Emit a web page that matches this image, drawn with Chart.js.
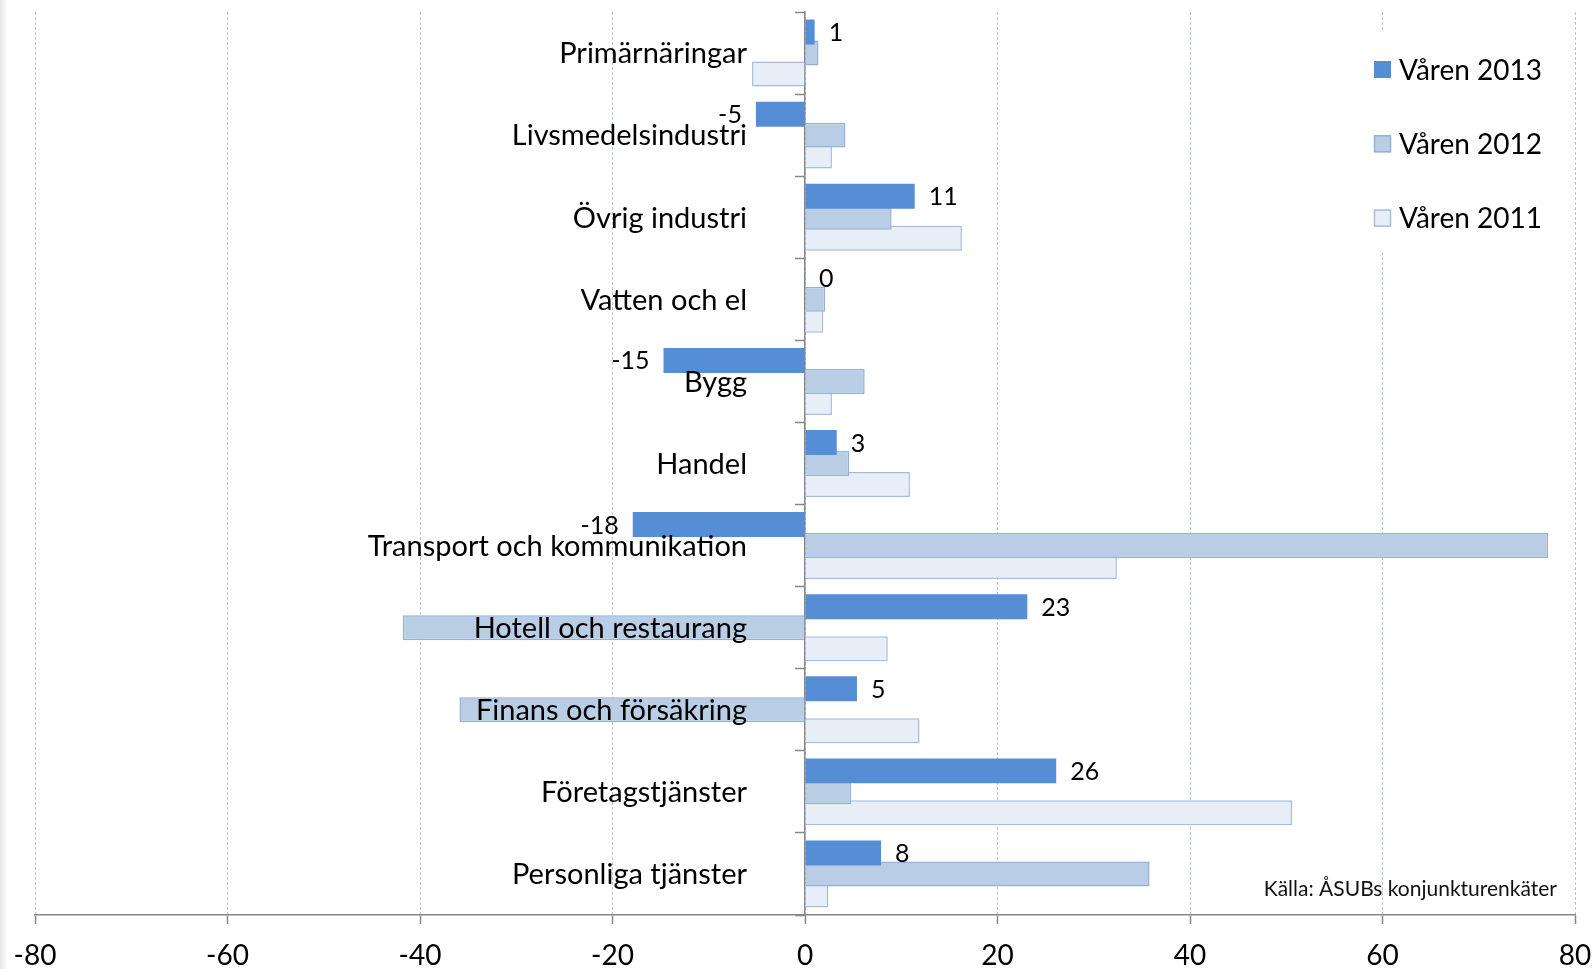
<!DOCTYPE html>
<html>
<head>
<meta charset="utf-8">
<script src="https://cdn.jsdelivr.net/npm/chart.js@4.4.1/dist/chart.umd.min.js"></script>
<style>
    html, body { margin: 0; padding: 0; }
    body {
        width: 1594px; height: 969px; overflow: hidden;
        background: linear-gradient(to right, #e4e4e4 0px, #f4f4f4 4px, #ffffff 7px);
    }
    #wrap { position: relative; width: 1594px; height: 969px; }
</style>
</head>
<body>
<div id="wrap"><canvas id="chart"></canvas></div>
<script>
// Categories, top to bottom.
const categories = [
    "Primärnäringar",
    "Livsmedelsindustri",
    "Övrig industri",
    "Vatten och el",
    "Bygg",
    "Handel",
    "Transport och kommunikation",
    "Hotell och restaurang",
    "Finans och försäkring",
    "Företagstjänster",
    "Personliga tjänster"
];

// Series values.
const varen2013 = [1.0, -5.1, 11.4, 0, -14.7, 3.3, -17.9, 23.1, 5.4, 26.1, 7.9];
const varen2012 = [1.4, 4.2, 9.0, 2.1, 6.2, 4.6, 77.2, -41.8, -35.9, 4.8, 35.8];
const varen2011 = [-5.5, 2.8, 16.3, 1.9, 2.8, 10.9, 32.4, 8.6, 11.9, 50.6, 2.4];

const seriesNames = ["Våren 2013", "Våren 2012", "Våren 2011"];

// X axis tick range.
const xMin = -80;
const xMax = 80;
const xStep = 20;

const sourceText = "Källa: ÅSUBs konjunkturenkäter";

const FONT = "Lato";
const AXIS_GREY = "#868686";

// Category names drawn left of the zero line (over the bars, like Excel does).
const categoryLabels = {
    id: "categoryLabels",
    afterDatasetsDraw (chart) {
        const ctx = chart.ctx;
        const xs = chart.scales.x;
        const ys = chart.scales.y;
        const right = xs.getPixelForValue(0) - 58;
        ctx.save();
        ctx.font = `29px ${FONT}`;
        ctx.fillStyle = "#000";
        ctx.textAlign = "right";
        ctx.textBaseline = "middle";
        chart.data.labels.forEach((lab, i) => {
            ctx.fillText(lab, right, ys.getPixelForValue(i) + 1);
        });
        ctx.restore();
    }
};

// Value labels only for the first series (Våren 2013).
const valueLabels = {
    id: "valueLabels",
    afterDatasetsDraw (chart) {
        const ctx = chart.ctx;
        const meta = chart.getDatasetMeta(0);
        const data = chart.data.datasets[0].data;
        ctx.save();
        ctx.font = `25px ${FONT}`;
        ctx.fillStyle = "#000";
        ctx.textBaseline = "middle";
        meta.data.forEach((bar, i) => {
            const v = data[i];
            const txt = String(Math.round(v));
            if (v >= 0) {
                ctx.textAlign = "left";
                ctx.fillText(txt, bar.x + 14, bar.y + 1);
            } else {
                ctx.textAlign = "right";
                ctx.fillText(txt, bar.x - 14, bar.y + 1);
            }
        });
        ctx.restore();
    }
};

// Legend in the top right corner + source note.
const sideNotes = {
    id: "sideNotes",
    afterDraw (chart) {
        const ctx = chart.ctx;
        ctx.save();
        ctx.fillStyle = "#fff";
        ctx.fillRect(1362, 32, 200, 221);

        ctx.font = `28px ${FONT}`;
        ctx.textAlign = "left";
        ctx.textBaseline = "middle";
        chart.data.datasets.forEach((ds, i) => {
            const cy = 69.5 + i * 74.3;
            ctx.fillStyle = ds.backgroundColor;
            ctx.fillRect(1374, cy - 8.5, 17, 17);
            if (ds.borderWidth) {
                ctx.strokeStyle = ds.borderColor;
                ctx.lineWidth = 1.5;
                ctx.strokeRect(1374.5, cy - 8, 16, 16);
            }
            ctx.fillStyle = "#000";
            ctx.fillText(ds.label, 1399, cy + 1);
        });

        ctx.font = `21px ${FONT}`;
        ctx.textAlign = "right";
        ctx.fillStyle = "#111";
        ctx.fillText(sourceText, 1557, 889);
        ctx.restore();
    }
};

new Chart(document.getElementById("chart"), {
    type: "bar",
    data: {
        labels: categories,
        datasets: [
            {
                label: seriesNames[0],
                data: varen2013,
                backgroundColor: "#558ed5",
                borderColor: "#558ed5",
                borderWidth: 0
            },
            {
                label: seriesNames[1],
                data: varen2012,
                backgroundColor: "#b9cde5",
                borderColor: "#93b1d9",
                borderWidth: 1.5
            },
            {
                label: seriesNames[2],
                data: varen2011,
                backgroundColor: "#e8eef7",
                borderColor: "#a3bddf",
                borderWidth: 1.5
            }
        ]
    },
    options: {
        indexAxis: "y",
        responsive: true,
        maintainAspectRatio: false,
        animation: false,
        devicePixelRatio: 1,
        layout: {
            padding: { left: 35, right: 19, top: 12, bottom: 0 }
        },
        datasets: {
            bar: {
                categoryPercentage: 0.767,
                barPercentage: 1.19,
                borderSkipped: "start"
            }
        },
        scales: {
            x: {
                type: "linear",
                min: xMin,
                max: xMax,
                // Fixed axis height and no extra side padding, so the plot spans 35..1575.
                afterFit: (s) => {
                    s.height = 54;
                    s.paddingLeft = 0;
                    s.paddingRight = 0;
                },
                ticks: {
                    stepSize: xStep,
                    padding: 15,
                    color: "#000",
                    font: { family: FONT, size: 28 }
                },
                grid: {
                    color: "#b3c6e4",
                    lineWidth: 1,
                    tickColor: AXIS_GREY,
                    tickLength: 9,
                    tickWidth: 1.5,
                    tickBorderDash: []
                },
                border: {
                    color: AXIS_GREY,
                    width: 1.5,
                    dash: [3, 2]
                }
            },
            y: {
                type: "category",
                position: { x: 0 },
                z: 1,
                ticks: { display: false },
                grid: {
                    drawOnChartArea: false,
                    offset: true,
                    tickLength: 9,
                    tickColor: AXIS_GREY,
                    tickWidth: 1.5
                },
                border: {
                    color: AXIS_GREY,
                    width: 1.5
                }
            }
        },
        plugins: {
            legend: { display: false },
            tooltip: { enabled: false }
        }
    },
    plugins: [categoryLabels, valueLabels, sideNotes]
});
</script>
</body>
</html>
